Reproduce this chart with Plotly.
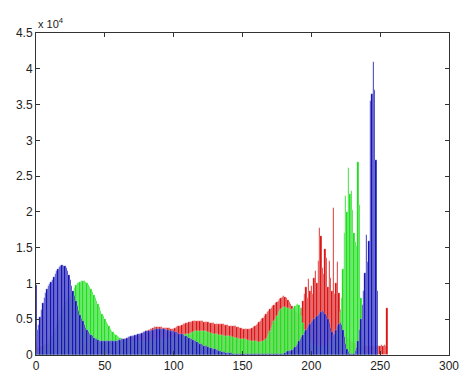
import plotly.graph_objects as go

# Histogram counts per intensity bin (0..255), in thousands of pixels
bins = list(range(256))

red_k = [
    2.0, 1.0, 1.0, 1.1, 1.2, 1.3, 1.4, 1.5, 1.6, 1.7,
    1.8, 1.9, 2.0, 2.1, 2.2, 2.3, 2.4, 2.5, 2.5, 2.6,
    2.6, 2.6, 2.6, 2.6, 2.5, 2.5, 2.4, 2.3, 2.2, 2.1,
    2.0, 2.0, 1.9, 1.9, 1.8, 1.8, 1.7, 1.7, 1.7, 1.6,
    1.6, 1.6, 1.6, 1.6, 1.6, 1.6, 1.6, 1.6, 1.6, 1.6,
    1.6, 1.7, 1.7, 1.7, 1.7, 1.8, 1.8, 1.8, 1.9, 1.9,
    2.0, 2.0, 2.1, 2.1, 2.2, 2.2, 2.3, 2.3, 2.4, 2.4,
    2.5, 2.5, 2.6, 2.7, 2.7, 2.8, 2.9, 3.0, 3.0, 3.1,
    3.3, 3.4, 3.5, 3.6, 3.7, 3.8, 3.9, 3.9, 3.9, 3.9,
    3.9, 3.9, 3.8, 3.8, 3.8, 3.8, 3.8, 3.8, 3.7, 3.7,
    3.7, 3.8, 3.9, 4.0, 4.0, 4.1, 4.2, 4.3, 4.4, 4.5,
    4.5, 4.6, 4.6, 4.6, 4.7, 4.7, 4.7, 4.7, 4.7, 4.7,
    4.7, 4.7, 4.6, 4.6, 4.6, 4.6, 4.5, 4.5, 4.5, 4.5,
    4.4, 4.4, 4.4, 4.3, 4.3, 4.3, 4.3, 4.2, 4.2, 4.2,
    4.1, 4.1, 4.1, 4.0, 4.0, 4.0, 3.9, 3.9, 3.8, 3.8,
    3.7, 3.7, 3.7, 3.6, 3.6, 3.6, 3.7, 3.8, 3.9, 4.0,
    4.2, 4.4, 4.6, 4.8, 5.0, 5.2, 5.5, 5.7, 6.0, 6.2,
    6.4, 6.6, 6.8, 7.0, 7.2, 7.4, 7.6, 7.8, 8.0, 8.1,
    8.2, 8.1, 7.9, 7.7, 7.4, 7.1, 6.8, 6.5, 6.2, 6.0,
    5.8, 5.8, 6.0, 6.5, 7.5, 8.5, 9.5, 8.0, 10.6, 9.0,
    9.7, 8.5, 10.8, 11.7, 10.0, 13.1, 17.8, 16.7, 12.1, 11.3,
    14.8, 13.5, 9.5, 13.1, 10.8, 9.0, 20.5, 8.5, 10.0, 13.0,
    8.6, 6.3, 4.0, 3.0, 2.8, 2.6, 2.4, 2.2, 2.0, 1.9,
    1.8, 1.7, 1.6, 1.5, 1.5, 1.4, 1.4, 1.4, 1.3, 1.3,
    1.3, 1.3, 1.3, 1.3, 1.3, 1.3, 1.3, 1.3, 1.3, 1.3,
    1.3, 1.4, 1.3, 1.4, 1.3, 6.6,
]

green_k = [
    0.3, 0.3, 0.4, 0.5, 0.6, 0.8, 1.0, 1.2, 1.5, 1.8,
    2.1, 2.5, 2.9, 3.3, 3.8, 4.3, 4.8, 5.3, 5.8, 6.3,
    6.8, 7.3, 7.6, 7.8, 8.0, 8.3, 8.6, 8.8, 9.3, 9.8,
    10.0, 10.1, 10.2, 10.3, 10.3, 10.3, 10.2, 10.0, 9.8, 9.5,
    9.2, 8.8, 8.4, 8.0, 7.6, 7.1, 6.7, 6.2, 5.8, 5.4,
    5.0, 4.6, 4.3, 4.0, 3.7, 3.4, 3.2, 3.0, 2.8, 2.6,
    2.5, 2.4, 2.3, 2.2, 2.1, 2.0, 2.0, 2.0, 2.0, 2.0,
    2.0, 2.0, 2.0, 2.0, 2.0, 2.0, 2.0, 2.0, 2.0, 2.0,
    2.0, 2.0, 2.0, 2.0, 2.1, 2.1, 2.1, 2.1, 2.1, 2.2,
    2.2, 2.2, 2.2, 2.3, 2.3, 2.3, 2.3, 2.4, 2.4, 2.4,
    2.5, 2.5, 2.5, 2.6, 2.6, 2.7, 2.7, 2.8, 2.8, 2.9,
    2.9, 3.0, 3.1, 3.1, 3.2, 3.3, 3.3, 3.4, 3.4, 3.4,
    3.4, 3.4, 3.4, 3.3, 3.3, 3.2, 3.1, 3.1, 3.0, 3.0,
    2.9, 2.9, 2.9, 2.8, 2.8, 2.8, 2.7, 2.7, 2.7, 2.6,
    2.6, 2.6, 2.5, 2.5, 2.4, 2.4, 2.4, 2.3, 2.3, 2.3,
    2.2, 2.2, 2.2, 2.1, 2.1, 2.0, 2.0, 2.0, 1.9, 1.9,
    1.9, 1.8, 1.8, 1.8, 1.8, 1.9, 2.0, 2.2, 2.5, 2.9,
    3.3, 3.8, 4.2, 4.7, 5.1, 5.5, 5.9, 6.2, 6.4, 6.6,
    6.7, 6.7, 6.6, 6.5, 6.4, 6.3, 6.4, 6.6, 6.8, 7.0,
    7.1, 7.0, 6.5, 5.5, 4.5, 3.5, 3.0, 2.6, 2.3, 2.0,
    1.8, 1.6, 1.5, 1.4, 1.3, 1.3, 1.2, 1.2, 1.2, 1.2,
    1.3, 1.4, 1.5, 1.7, 1.9, 2.0, 2.2, 2.5, 3.0, 3.5,
    4.0, 6.0, 8.0, 12.0, 17.1, 22.2, 20.0, 26.1, 22.5, 22.9,
    20.2, 17.0, 15.8, 15.3, 27.0, 21.0, 8.0, 2.0, 0.5, 0.2,
    0.1, 0.1, 0.1, 0.1, 0.1, 0.1, 0.1, 0.1, 0.1, 0.0,
    0.0, 0.0, 0.0, 0.0, 0.0, 0.0,
]

blue_k = [
    9.8, 3.5, 4.2, 5.3, 6.3, 7.2, 8.0, 8.7, 9.2, 9.6,
    9.9, 10.2, 10.5, 10.9, 11.3, 11.7, 12.0, 12.3, 12.5, 12.6,
    12.5, 12.4, 12.2, 11.8, 11.2, 10.5, 9.7, 8.9, 8.2, 7.5,
    6.8, 6.2, 5.6, 5.1, 4.7, 4.2, 3.8, 3.5, 3.2, 3.0,
    2.8, 2.6, 2.4, 2.3, 2.2, 2.1, 2.0, 2.0, 1.9, 1.9,
    1.9, 1.9, 1.9, 1.9, 1.9, 1.9, 1.9, 2.0, 2.0, 2.0,
    2.1, 2.1, 2.2, 2.2, 2.3, 2.3, 2.4, 2.5, 2.5, 2.6,
    2.6, 2.7, 2.8, 2.8, 2.9, 3.0, 3.0, 3.1, 3.2, 3.2,
    3.3, 3.3, 3.4, 3.4, 3.5, 3.5, 3.6, 3.6, 3.7, 3.6,
    3.7, 3.6, 3.6, 3.6, 3.5, 3.5, 3.5, 3.4, 3.4, 3.3,
    3.3, 3.2, 3.2, 3.1, 3.0, 3.0, 2.9, 2.8, 2.7, 2.6,
    2.5, 2.4, 2.3, 2.2, 2.1, 2.0, 1.9, 1.8, 1.7, 1.6,
    1.5, 1.4, 1.3, 1.2, 1.2, 1.1, 1.0, 0.95, 0.9, 0.85,
    0.8, 0.7, 0.65, 0.6, 0.5, 0.45, 0.4, 0.4, 0.35, 0.3,
    0.3, 0.25, 0.25, 0.2, 0.2, 0.2, 0.15, 0.15, 0.15, 0.1,
    0.1, 0.1, 0.1, 0.1, 0.1, 0.1, 0.1, 0.1, 0.1, 0.1,
    0.1, 0.1, 0.1, 0.1, 0.1, 0.1, 0.1, 0.1, 0.1, 0.1,
    0.1, 0.1, 0.1, 0.1, 0.1, 0.1, 0.1, 0.1, 0.1, 0.15,
    0.2, 0.3, 0.4, 0.5, 0.6, 0.6, 0.7, 0.9, 1.1, 1.3,
    1.6, 1.9, 2.2, 2.5, 2.8, 3.2, 3.5, 3.8, 4.1, 4.4,
    4.6, 4.8, 5.0, 5.2, 5.4, 5.6, 5.8, 6.0, 6.1, 6.0,
    5.8, 5.5, 5.0, 4.5, 3.8, 3.2, 2.8, 3.0, 3.5, 4.0,
    4.4, 4.5, 4.2, 3.5, 2.5, 1.5, 0.8, 0.4, 0.2, 0.1,
    0.1, 0.2, 0.5, 1.0, 2.0, 3.5, 5.0, 7.0, 9.0, 11.5,
    16.8, 13.0, 16.0, 35.5, 36.5, 41.0, 37.0, 27.2, 9.0, 0.0,
    0.0, 0.0, 0.0, 0.0, 0.0, 0.0,
]

assert len(red_k) == len(green_k) == len(blue_k) == 256

x_ticks = [0, 50, 100, 150, 200, 250, 300]
y_tick_vals = [0, 5000, 10000, 15000, 20000, 25000, 30000, 35000, 40000, 45000]
y_tick_text = ["0", "0.5", "1", "1.5", "2", "2.5", "3", "3.5", "4", "4.5"]

series = [
    ("R", red_k, "rgb(215,0,0)"),
    ("G", green_k, "rgb(10,220,10)"),
    ("B", blue_k, "rgb(0,0,175)"),
]

fig = go.Figure()
for name, vals, col in series:
    fig.add_trace(go.Bar(
        x=bins, y=[v * 1000 for v in vals], name=name,
        marker=dict(color=col, line=dict(width=0.3, color="rgba(255,255,255,0.85)")),
        width=1.0, showlegend=False,
    ))

font_family = "Liberation Sans, Arial, sans-serif"
axis_common = dict(
    showline=True, linecolor="#333", linewidth=1, mirror="ticks",
    ticks="inside", ticklen=4, tickcolor="#333", showgrid=False, zeroline=False,
    tickfont=dict(family=font_family, size=12, color="#222"),
)

fig.update_layout(
    width=469, height=383,
    margin=dict(l=36, r=10, t=33, b=16),
    paper_bgcolor="white", plot_bgcolor="white",
    barmode="overlay", bargap=0,
    xaxis=dict(range=[0, 300], tickvals=x_ticks, **axis_common),
    yaxis=dict(range=[0, 45000], tickvals=y_tick_vals, ticktext=y_tick_text, **axis_common),
    annotations=[dict(
        text="x 10<sup>4</sup>", xref="paper", yref="paper", x=0, y=1,
        xanchor="left", yanchor="bottom", showarrow=False, yshift=1,
        font=dict(family=font_family, size=11, color="#222"),
    )],
)

fig.write_html("out.html")
